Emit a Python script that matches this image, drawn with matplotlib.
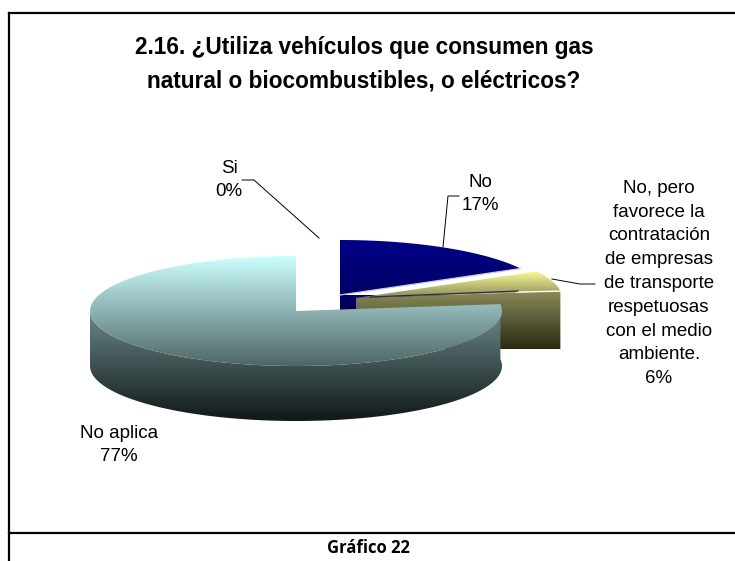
import numpy as np
import matplotlib
matplotlib.use("Agg")
import matplotlib.pyplot as plt
from matplotlib.colors import LinearSegmentedColormap
from matplotlib.patches import Polygon

plt.rcParams['font.family'] = ['Liberation Sans', 'DejaVu Sans']

# share of each slice, clockwise from the top
labels = ["Si", "No", "No, pero\nfavorece la\ncontratación\nde empresas\nde transporte\nrespetuosas\ncon el medio\nambiente.", "No aplica"]
values = [0, 17, 6, 77]

title = "2.16. ¿Utiliza vehículos que consumen gas\nnatural o biocombustibles, o eléctricos?"
caption = "Gráfico 22"

# pie geometry, in pixels
RX = 206
RY = 55
DEPTH = 55
centers = [(340, 295), (340, 295), (356, 298), (296, 311)]

W, H = 735, 561
fig = plt.figure(figsize=(W / 100, H / 100), dpi=100)
ax = fig.add_axes([0, 0, 1, 1])
ax.set_xlim(0, W)
ax.set_ylim(H, 0)
ax.set_autoscale_on(False)
ax.axis("off")


def arc(c, a0, a1, n=120):
    # a0, a1 in degrees, anticlockwise
    t = np.radians(np.linspace(a0, a1, n))
    return np.column_stack([c[0] + RX * np.cos(t), c[1] - RY * np.sin(t)])


def shade(points, y0, y1, c0, c1, z):
    # vertical gradient clipped to a polygon
    cmap = LinearSegmentedColormap.from_list("g", [c0, c1])
    poly = Polygon(points, closed=True, transform=ax.transData, fc="none", ec="none")
    ax.add_patch(poly)
    x0, x1 = points[:, 0].min(), points[:, 0].max()
    grad = np.linspace(0, 1, 256).reshape(-1, 1)
    im = ax.imshow(grad, cmap=cmap, extent=[x0, x1, y1, y0], aspect="auto",
                   zorder=z, interpolation="bilinear")
    im.set_clip_path(poly)


# slice angles out of the values
ends = 90 - np.cumsum(values) * 3.6
starts = np.concatenate([[90], ends[:-1]])

# No
a1, a0 = starts[1], ends[1]
c = centers[1]
top = np.vstack([[c], arc(c, a0, a1)])
tip = arc(c, a0, a0, 1)[0]
cut = np.array([c, tip, tip + [0, 25], [c[0], c[1] + 18]])
shade(cut, c[1], c[1] + 20, "#000070", "#000048", 2)
shade(top, c[1] - RY, c[1], "#000088", "#000066", 3)
ax.plot([c[0], tip[0]], [c[1], tip[1]], color="#c8c8e8", lw=0.9, zorder=3.5)

# No, pero favorece...
a1, a0 = starts[2], ends[2]
c = centers[2]
top = np.vstack([[c], arc(c, a0, a1)])
tip = arc(c, a0, a0, 1)[0]
cut = np.array([c, tip, tip + [0, DEPTH + 3], [c[0], c[1] + DEPTH + 10]])
shade(cut, c[1] - 7, c[1] + 51, "#8a8a58", "#2a2a14", 4)
shade(top, c[1] - 28, c[1], "#ffff99", "#8a8a58", 5)
ax.plot([tip[0] - 44, tip[0]], [tip[1] + 1, tip[1]], color="white", lw=1, zorder=5.5)
ax.plot([c[0] + 14, c[0] + 162], [c[1] - 1, c[1] - 7], color="#2a2a50", lw=0.9, zorder=5.5)

# No aplica, its arc runs from the top through the left and front to the right
a1, a0 = starts[3], ends[3]
c = centers[3]
top = np.vstack([[c], arc(c, a0, a1)])
rim = arc(c, -180, a1)
side = np.vstack([rim, rim[::-1] + [0, DEPTH]])
shade(side, c[1], c[1] + RY + DEPTH, "#6a8888", "#101818", 6)
shade(top, c[1] - RY, c[1] + RY + DEPTH, "#ccffff", "#101818", 7)

# frame
for xs, ys in [([9, 735], [13, 13]), ([9, 9], [13, 561]), ([9, 735], [533, 533])]:
    ax.plot(xs, ys, color="black", lw=1.6, solid_capstyle="projecting", zorder=10)

# leader lines
ax.plot([242, 254, 319], [180, 180, 238], color="black", lw=0.7, zorder=9)
ax.plot([459, 448, 443], [196, 196, 247], color="black", lw=0.7, zorder=9)
ax.plot([552, 580, 595], [279, 284, 284], color="black", lw=0.7, zorder=9)

# text
ax.text(364, 64.5, title, ha="center", va="center", fontsize=16.3, fontweight="bold",
        linespacing=1.6, color="black", zorder=11)
txt = dict(ha="center", va="center", fontsize=13.5, linespacing=1.52, color="black", zorder=11)
ax.text(229, 180, "%s\n%d%%" % (labels[0], values[0]), **txt)
ax.text(480, 194, "%s\n%d%%" % (labels[1], values[1]), **txt)
ax.text(659, 283.5, "%s\n%d%%" % (labels[2], values[2]), **txt)
ax.text(119, 445, "%s\n%d%%" % (labels[3], values[3]), **txt)
ax.text(368, 548, caption, ha="center", va="center", fontsize=12, fontweight="bold",
        family=["Open Sans", "DejaVu Sans"], color="black", zorder=11)

fig.savefig("out.png", dpi=100)
